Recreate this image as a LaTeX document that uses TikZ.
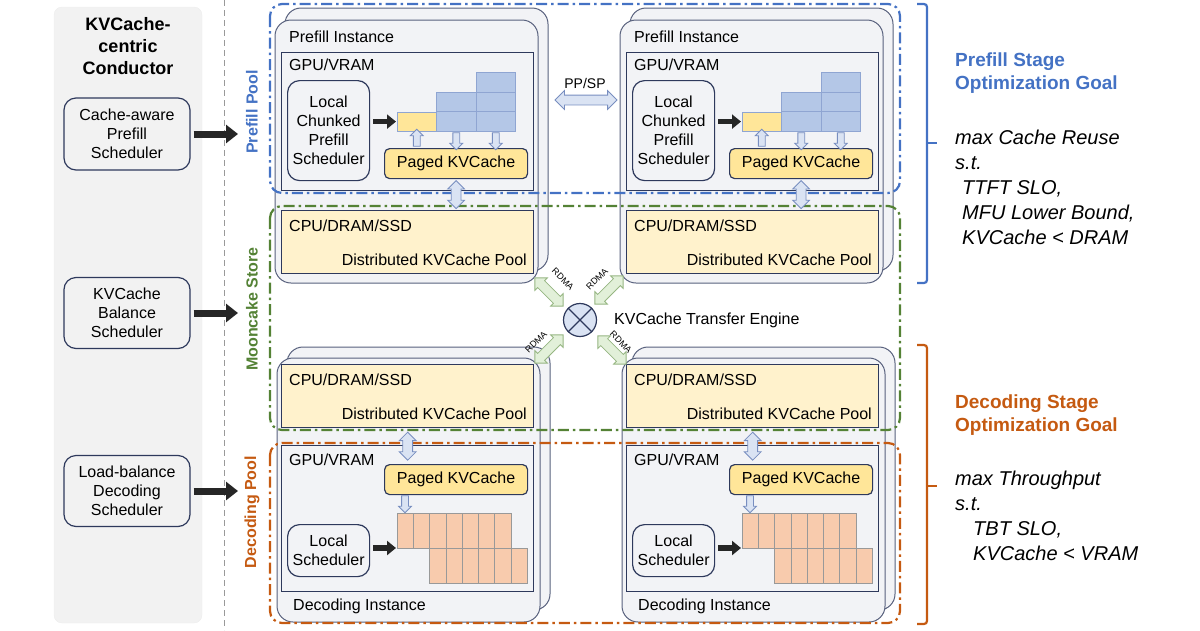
\documentclass[tikz,border=0pt]{standalone}
\usepackage{fontspec}
\setmainfont{Liberation Sans}
\usetikzlibrary{arrows.meta,shapes.arrows,calc}

\definecolor{navy}{RGB}{46,57,92}
\definecolor{cardgray}{RGB}{242,243,246}
\definecolor{panelgray}{RGB}{242,242,242}
\definecolor{cpuyellow}{RGB}{255,242,204}
\definecolor{pageyellow}{RGB}{255,230,153}
\definecolor{blkblue}{RGB}{180,199,231}
\definecolor{blkblueline}{RGB}{143,165,210}
\definecolor{blkorange}{RGB}{248,203,173}
\definecolor{prefillblue}{RGB}{68,114,196}
\definecolor{storegreen}{RGB}{84,130,53}
\definecolor{decodeorange}{RGB}{197,90,17}
\definecolor{hollowfill}{RGB}{218,227,243}
\definecolor{hollowline}{RGB}{120,142,192}
\definecolor{rdmafill}{RGB}{226,240,217}
\definecolor{rdmaline}{RGB}{150,182,130}
\definecolor{darkarrow}{RGB}{38,38,38}

\begin{document}
\begin{tikzpicture}[x=1pt, y=-1pt,
  lbl/.style={font=\fontsize{16}{19}\selectfont, inner sep=0pt},
  card/.style={draw=navy!80, line width=1pt, fill=cardgray, rounded corners=16pt},
  membox/.style={draw=navy, line width=1.4pt, inner sep=0pt, anchor=north west},
  schedbox/.style={draw=navy, line width=1.2pt, rounded corners=12pt, align=center,
    inner sep=0pt, font=\fontsize{16}{19}\selectfont, anchor=north west},
  paged/.style={draw=navy, line width=1.2pt, fill=pageyellow, rounded corners=5pt,
    inner sep=0pt, font=\fontsize{16}{19}\selectfont, anchor=north west,
    minimum width=143, minimum height=30},
  cellB/.style={draw=blkblueline, fill=blkblue, line width=0.7pt},
  cellO/.style={draw=black!40, fill=blkorange, line width=0.7pt},
  bigarrow/.style={draw=darkarrow, line width=7pt, -{Triangle[length=12pt,width=18pt]}},
  smallarrow/.style={draw=darkarrow, line width=5.5pt, -{Triangle[length=9pt,width=14pt]}},
  hollow/.style={single arrow, draw=hollowline, fill=hollowfill, line width=0.8pt,
    inner xsep=0pt, inner ysep=3pt, minimum width=0pt, minimum height=17pt,
    single arrow head extend=3pt},
  vdouble/.style={double arrow, draw=hollowline, fill=hollowfill, line width=0.8pt,
    inner xsep=0pt, inner ysep=4.5pt, minimum width=0pt, minimum height=28pt,
    double arrow head extend=3.5pt},
  rdma/.style={double arrow, draw=rdmaline, fill=rdmafill, line width=0.8pt,
    inner xsep=0pt, inner ysep=4.5pt, minimum width=0pt, minimum height=40pt,
    double arrow head extend=4pt},
  rdmalbl/.style={font=\fontsize{9}{10}\selectfont, inner sep=0pt},
  poolline/.style={line width=2.2pt, dash pattern=on 11pt off 4pt on 2.5pt off 4pt,
    rounded corners=12pt},
  poolname/.style={font=\bfseries\fontsize{16}{19}\selectfont, rotate=90, inner sep=0pt},
  goal/.style={font=\bfseries\fontsize{19}{23}\selectfont, align=left, anchor=west, inner sep=0pt},
  cond/.style={font=\itshape\fontsize{20}{25}\selectfont, align=left, anchor=west, inner sep=0pt},
]
  \useasboundingbox (0,0) rectangle (1200,630);

  % conductor column
  \draw[fill=panelgray, draw=black!7, rounded corners=8pt] (54,7) rectangle (202,623);
  \node[font=\bfseries\fontsize{18}{22}\selectfont, align=center, inner sep=0pt] (title)
    at (128,46) {KVCache-\\centric\\Conductor};
  \node[schedbox, fill=panelgray, anchor=center, minimum width=126, minimum height=72]
    (cs1) at (127,134) {Cache-aware\\Prefill\\Scheduler};
  \node[schedbox, fill=panelgray, anchor=center, minimum width=126, minimum height=71]
    (cs2) at (127,313) {KVCache\\Balance\\Scheduler};
  \node[schedbox, fill=panelgray, anchor=center, minimum width=126, minimum height=71]
    (cs3) at (127,491) {Load-balance\\Decoding\\Scheduler};
  \draw[black!40, line width=0.8pt, dash pattern=on 6pt off 4pt] (224,0) -- (224,630);

  \coordinate (to-ppool) at (238,134);
  \coordinate (to-store) at (238,313);
  \coordinate (to-dpool) at (238,491);
  \draw[bigarrow] ($(cs1.east)+(3,0)$) -- (to-ppool);
  \draw[bigarrow] ($(cs2.east)+(3,0)$) -- (to-store);
  \draw[bigarrow] ($(cs3.east)+(3,0)$) -- (to-dpool);

  \node[poolname, text=prefillblue] (ppool) at (252,112) {Prefill Pool};
  \node[poolname, text=storegreen] (store) at (252,309) {Mooncake Store};
  \node[poolname, text=decodeorange] (dpool) at (252,512) {Decoding Pool};

  % instance cards
  \foreach \sx in {0,345}{
    \draw[card] (\sx+285,8) rectangle (\sx+548,271);
    \draw[card] (\sx+275,20) rectangle (\sx+538,283);
    \draw[card] (\sx+287,347) rectangle (\sx+550,610);
    \draw[card] (\sx+277,358) rectangle (\sx+540,622);
  }

  % pools
  \draw[poolline, draw=prefillblue] (270,4) rectangle (900,193);
  \draw[poolline, draw=storegreen] (270,206) rectangle (900,430);
  \draw[poolline, draw=decodeorange] (270,443) rectangle (900,623);

  % prefill instances
  \foreach \sx/\side in {0/L,345/R}{
    \node[lbl, anchor=west] at (\sx+289,37) {Prefill Instance};
    \node[membox, fill=cardgray, minimum width=252, minimum height=138] (pgpu-\side) at (\sx+281,52) {};
    \node[lbl, anchor=west] at (\sx+289,65) {GPU/VRAM};
    \node[membox, fill=cpuyellow, minimum width=252, minimum height=63] (pcpu-\side) at (\sx+281,210) {};
    \node[lbl, anchor=west] at (\sx+289,226) {CPU/DRAM/SSD};
    \node[lbl, anchor=east] at (\sx+527,260) {Distributed KVCache Pool};
    \node[schedbox, fill=cardgray, minimum width=82, minimum height=100] (plocal-\side)
      at (\sx+287,80) {Local\\Chunked\\Prefill\\Scheduler};
    \node[paged] (ppk-\side) at (\sx+384,148) {Paged KVCache};
    \node[draw=blkblueline, fill=pageyellow, line width=0.7pt, inner sep=0pt, anchor=north west,
      minimum width=39.5, minimum height=19.5] (chunk-\side) at (\sx+397,111.5) {};
    \foreach \cx/\cy in {436.5/92,436.5/111.5,476/72.5,476/92,476/111.5}
      \draw[cellB] (\sx+\cx,\cy) rectangle ++(39.5,19.5);
    \draw[smallarrow] ($(plocal-\side.east |- chunk-\side.west)+(3,0)$) -- ($(chunk-\side.west)+(-1,0)$);
    \node[hollow, rotate=90] at (\sx+416.75,139.5) {};
    \node[hollow, rotate=-90] at (\sx+456.25,139.5) {};
    \node[hollow, rotate=-90] at (\sx+495.75,139.5) {};
    \node[vdouble, rotate=90] at ($(ppk-\side.south)!0.5!(ppk-\side.south |- pcpu-\side.north)$) {};
  }

  % decoding instances
  \foreach \sx/\side in {0/L,345/R}{
    \node[membox, fill=cpuyellow, minimum width=252, minimum height=63] (dcpu-\side) at (\sx+281,364) {};
    \node[lbl, anchor=west] at (\sx+289,380) {CPU/DRAM/SSD};
    \node[lbl, anchor=east] at (\sx+527,414) {Distributed KVCache Pool};
    \node[membox, fill=cardgray, minimum width=252, minimum height=146] (dgpu-\side) at (\sx+281,445) {};
    \node[lbl, anchor=west] at (\sx+289,460) {GPU/VRAM};
    \node[paged] (dpk-\side) at (\sx+384,464) {Paged KVCache};
    \node[schedbox, fill=cardgray, minimum width=82, minimum height=52] (dlocal-\side)
      at (\sx+287,524) {Local\\Scheduler};
    \foreach \i in {0,...,6}
      \draw[cellO] (\sx+397+16.3*\i,513) rectangle ++(16.3,35);
    \foreach \i in {2,...,7}
      \draw[cellO] (\sx+397+16.3*\i,548) rectangle ++(16.3,35);
    \coordinate (dtok-\side) at (\sx+396,548);
    \draw[smallarrow] ($(dlocal-\side.east |- dtok-\side)+(3,0)$) -- (dtok-\side);
    \node[hollow, rotate=-90] at (\sx+405,502.5) {};
    \node[vdouble, rotate=90] at ($(dcpu-\side.south)!0.5!(dcpu-\side.south |- dpk-\side.north)$) {};
    \node[lbl, anchor=west] at (\sx+293,606) {Decoding Instance};
  }

  % PP/SP link
  \node[vdouble, minimum height=62pt, double arrow head extend=4.5pt] (ppsp) at (586,100) {};
  \node[lbl, font=\fontsize{14}{16}\selectfont] at (585,83) {PP/SP};

  % transfer engine
  \node[circle, draw=navy, fill=hollowfill, line width=1.2pt, minimum size=33pt, inner sep=0pt] (engine) at (580,320) {};
  \draw[navy, line width=1.2pt] (engine.north west) -- (engine.south east)
    (engine.north east) -- (engine.south west);
  \node[lbl, anchor=west] (enginetxt) at (614,320) {KVCache Transfer Engine};
  \node[rdma, rotate=-45] (rdma1) at ($(engine)+(-31,-28)$) {};
  \node[rdma, rotate=45] (rdma2) at ($(engine)+(29,-30)$) {};
  \node[rdma, rotate=45] (rdma3) at ($(engine)+(-31,29)$) {};
  \node[rdma, rotate=-45] (rdma4) at ($(engine)+(32,30)$) {};
  \node[rdmalbl, rotate=-45] at (563,279) {RDMA};
  \node[rdmalbl, rotate=45] at (597,279) {RDMA};
  \node[rdmalbl, rotate=45] at (536,342) {RDMA};
  \node[rdmalbl, rotate=-45] at (621,342) {RDMA};

  % optimization goals
  \draw[prefillblue, line width=2.2pt, rounded corners=3pt] (917,4) -- (927,4) -- (927,283) -- (917,283);
  \draw[prefillblue, line width=2.2pt] (927,143) -- (937,143);
  \node[goal, text=prefillblue] (pgoal) at (955,73.5) {Prefill Stage\\Optimization Goal};
  \node[cond] (pcond) at (955,187) {max Cache Reuse\\s.t.\\\hspace*{7pt}TTFT SLO,\\\hspace*{7pt}MFU Lower Bound,\\\hspace*{7pt}KVCache < DRAM};

  \draw[decodeorange, line width=2.2pt, rounded corners=3pt] (917,345) -- (927,345) -- (927,624) -- (917,624);
  \draw[decodeorange, line width=2.2pt] (927,486) -- (937,486);
  \node[goal, text=decodeorange] (dgoal) at (955,415.5) {Decoding Stage\\Optimization Goal};
  \node[cond] (dcond) at (955,515.5) {max Throughput\\s.t.\\\hspace*{18pt}TBT SLO,\\\hspace*{18pt}KVCache < VRAM};

\end{tikzpicture}
\end{document}
